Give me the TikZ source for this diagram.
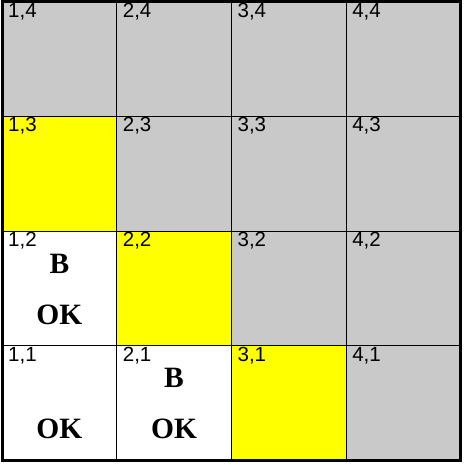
\documentclass[tikz,border=0pt]{standalone}
\usepackage{fontspec}
\setmainfont{Liberation Serif}
\newfontfamily\cellfont{Liberation Sans}
\definecolor{unvisited}{gray}{0.79}
\definecolor{frontier}{RGB}{255,255,0}

\begin{document}
\begin{tikzpicture}[x=1pt,y=1pt]
        \tikzstyle{cell}=[draw, line width=0.9pt, minimum size=114.7pt, inner sep=0pt, outer sep=0pt]
        \tikzstyle{coord}=[anchor=base west, inner sep=0pt, font=\cellfont\fontsize{20.5}{20.5}\selectfont]
        \tikzstyle{percept}=[inner sep=0pt, font=\bfseries\fontsize{29.5}{29.5}\selectfont]

        \useasboundingbox (0,0) rectangle (463,465);

        \foreach \i/\j/\shade in {1/1/white, 2/1/white, 3/1/frontier, 4/1/unvisited,
                                  1/2/white, 2/2/frontier, 3/2/unvisited, 4/2/unvisited,
                                  1/3/frontier, 2/3/unvisited, 3/3/unvisited, 4/3/unvisited,
                                  1/4/unvisited, 2/4/unvisited, 3/4/unvisited, 4/4/unvisited}
            \node[cell, fill=\shade] (c\i\j) at (114.7*\i-55.35, 114.7*\j-52.85) {};

        \draw[line width=3pt] (c11.south west) rectangle (c44.north east);

        \foreach \i in {1,...,4}
            \foreach \j in {1,...,4}
                \node[coord] (l\i\j) at ([xshift=6pt,yshift=-15.5pt]c\i\j.north west) {\i,\j};

        \node[percept] (b12) at ([yshift=25pt]c12.center) {B};
        \node[percept] (ok12) at ([yshift=-26pt]c12.center) {OK};
        \node[percept] (b21) at ([yshift=25pt]c21.center) {B};
        \node[percept] (ok21) at ([yshift=-26pt]c21.center) {OK};
        \node[percept] (ok11) at ([yshift=-26pt]c11.center) {OK};
    \end{tikzpicture}
\end{document}
